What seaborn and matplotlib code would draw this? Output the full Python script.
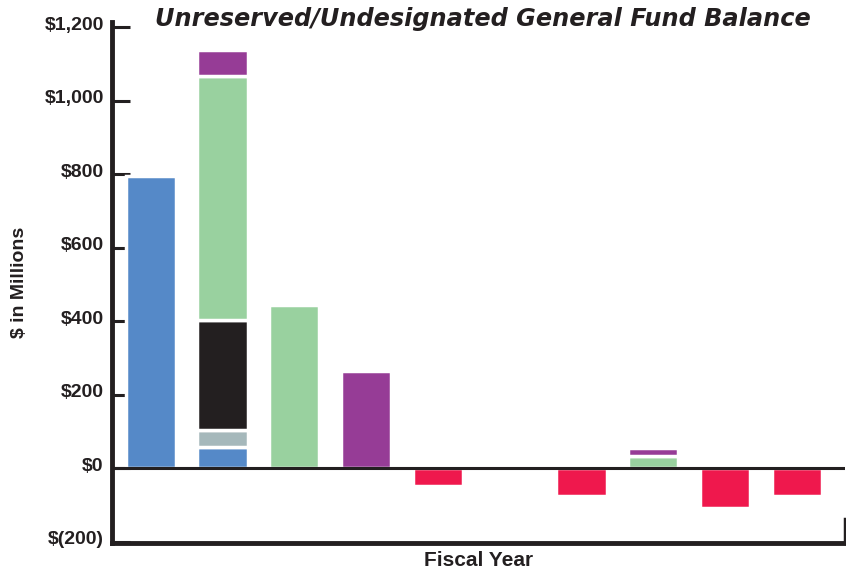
import numpy as np
import pandas as pd
import matplotlib
matplotlib.use("Agg")
import matplotlib.pyplot as plt
import matplotlib.transforms as mtrans
import seaborn as sns

# bar slots (fiscal years, no tick labels in the original)
slots = list(range(10))

# stacked segments, $ millions (bottom to top)
seg_blue = [795, 56, 0, 0, 0, 0, 0, 0, 0, 0]
seg_grey = [0, 47, 0, 0, 0, 0, 0, 0, 0, 0]
seg_black = [0, 300, 0, 0, 0, 0, 0, 0, 0, 0]
seg_green = [0, 665, 445, 0, 0, 0, 0, 32, 0, 0]
seg_purple = [0, 69, 0, 265, 0, 0, 0, 22, 0, 0]
seg_red = [0, 0, 0, 0, -50, 0, -75, 0, -110, -75]

segments = {
    "blue": (seg_blue, "#5589c8"),
    "grey": (seg_grey, "#a5b8bb"),
    "black": (seg_black, "#231f20"),
    "green": (seg_green, "#99d19f"),
    "purple": (seg_purple, "#963c96"),
}

ytick_vals = [-200, 0, 200, 400, 600, 800, 1000, 1200]
ytick_labels = ["$(200)", "$0", "$200", "$400", "$600", "$800", "$1,000", "$1,200"]

ink = "#231f20"

sns.set_theme(style="white")
plt.rcParams["font.family"] = ["Liberation Sans", "DejaVu Sans"]

fig = plt.figure(figsize=(8.46, 5.73), dpi=100)
ax = fig.add_axes([0.1324, 0.0524, 0.8664, 0.9092])

bottom = np.zeros(len(slots))
for name, (vals, color) in segments.items():
    vals = np.array(vals, dtype=float)
    if name == "blue":
        df = pd.DataFrame({"slot": slots, "value": vals})
        sns.barplot(data=df, x="slot", y="value", color=color, width=0.7,
                    edgecolor="white", linewidth=2.5, saturation=1, ax=ax,
                    zorder=2)
    else:
        mask = vals > 0
        ax.bar(np.array(slots)[mask], vals[mask], bottom=bottom[mask],
               width=0.7, color=color, edgecolor="white", linewidth=2.5,
               zorder=2)
    bottom += vals

red = np.array(seg_red, dtype=float)
mask = red < 0
ax.bar(np.array(slots)[mask], red[mask], width=0.7, color="#ef184d",
       edgecolor="white", linewidth=2.5, zorder=2)

ax.axhline(0, color=ink, lw=2.2, zorder=3)

ax.set_xlim(-0.54, 9.67)
ax.set_ylim(-204, 1214)
ax.set_xticks([])
ax.set_yticks(ytick_vals)
ax.set_yticklabels(ytick_labels, fontsize=14, fontweight="bold", color=ink)
ax.tick_params(axis="y", direction="in", length=13, width=2.2, color=ink,
               pad=6, left=True)
shift = mtrans.ScaledTranslation(0, 4 / 100, fig.dpi_scale_trans)
for lab in ax.get_yticklabels():
    lab.set_transform(lab.get_transform() + shift)

ax.spines["top"].set_visible(False)
ax.spines["left"].set_linewidth(3.5)
ax.spines["left"].set_color(ink)
ax.spines["bottom"].set_linewidth(3.5)
ax.spines["bottom"].set_color(ink)
ax.spines["right"].set_linewidth(2.5)
ax.spines["right"].set_color(ink)
ax.spines["right"].set_bounds(-204, -140)

ax.set_xlabel("Fiscal Year", fontsize=15, fontweight="bold", color=ink,
              labelpad=6)
ax.set_ylabel("$ in Millions", fontsize=14, fontweight="bold", color=ink,
              labelpad=12)

fig.text(0.571, 0.967, "Unreserved/Undesignated General Fund Balance",
         ha="center", va="center", fontsize=17.3, fontweight="bold",
         style="italic", family=["DejaVu Sans"], color=ink)

fig.savefig("out.png", dpi=100)
